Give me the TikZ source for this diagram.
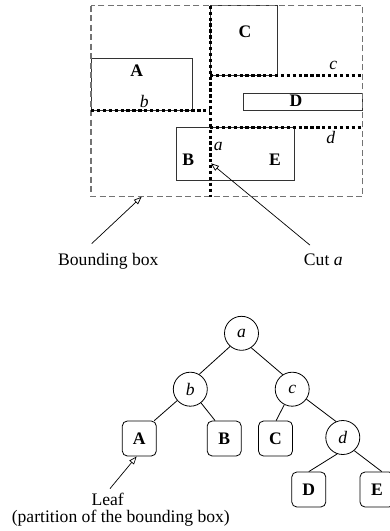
\documentclass[tikz,border=0pt]{standalone}
\usepackage{fontspec}
\setmainfont{Liberation Serif}
\usetikzlibrary{arrows.meta}

\tikzset{
  region/.style={draw=black!80, line width=0.8pt},
  bbox/.style={draw=black!55, line width=1.2pt, dash pattern=on 6pt off 3.5pt},
  cutline/.style={draw=black, line width=3pt, dash pattern=on 3.3pt off 2.6pt},
  lbl/.style={inner sep=0pt, font=\fontsize{17.6}{18}\selectfont},
  openarrow/.style={draw=black, line width=0.7pt, -{Triangle[open, length=8pt, width=6pt]}},
  cutnode/.style={circle, draw=black, line width=0.8pt, minimum size=34pt, inner sep=0pt,
                  font=\fontsize{17.6}{18}\selectfont\itshape},
  leafnode/.style={rectangle, rounded corners=5pt, draw=black, line width=0.8pt,
                   minimum width=34pt, minimum height=35pt, inner sep=0pt,
                   font=\fontsize{17.6}{18}\selectfont\bfseries},
  treeedge/.style={draw=black, line width=0.8pt}
}

\begin{document}
\begin{tikzpicture}[x=1pt, y=-1pt]
\useasboundingbox (0,0) rectangle (390,531);
\clip (0,0) rectangle (390,531);

% ---------- partitioned region ----------
\draw[region] (91,58.3) rectangle (192.7,110);      % A
\draw[region] (210,5.7) rectangle (277.3,75);       % C
\draw[region] (243.3,93.3) rectangle (362.7,110);   % D
\draw[region] (176,127.7) rectangle (294,180);      % B and E

\draw[bbox] (91,5.7) rectangle (362.7,196.7);

% cuts
\draw[cutline] (210,5.7) -- (210,196.7);            % a
\draw[cutline] (91,110.7) -- (210,110.7);           % b
\draw[cutline] (210,75.7) -- (362.7,75.7);          % c
\draw[cutline] (210,127.7) -- (362.7,127.7);        % d

% region and cut labels
\node[lbl, font=\fontsize{17.6}{18}\selectfont\bfseries] (rA) at (136.7,71) {A};
\node[lbl, font=\fontsize{17.6}{18}\selectfont\bfseries] (rC) at (245,31.7) {C};
\node[lbl, font=\fontsize{17.6}{18}\selectfont\bfseries] (rD) at (296,101) {D};
\node[lbl, font=\fontsize{17.6}{18}\selectfont\bfseries] (rB) at (188.3,159.3) {B};
\node[lbl, font=\fontsize{17.6}{18}\selectfont\bfseries] (rE) at (275,160) {E};
\node[lbl, font=\fontsize{17.6}{18}\selectfont\itshape] (ca) at (218.3,146.7) {a};
\node[lbl, font=\fontsize{17.6}{18}\selectfont\itshape] (cb) at (144.3,101) {b};
\node[lbl, font=\fontsize{17.6}{18}\selectfont\itshape] (cc) at (333.3,65.7) {c};
\node[lbl, font=\fontsize{17.6}{18}\selectfont\itshape] (cd) at (330.7,137.7) {d};

% callouts
\coordinate (bbtip) at (141.7,196.7);
\coordinate (cuttip) at (211,163.3);
\node[lbl, anchor=base] (bbtext) at (108.3,265) {Bounding box};
\node[lbl, anchor=base] (cuttext) at (323.3,265) {Cut \textit{a}};
\draw[openarrow] ([xshift=-16.6pt, yshift=9pt]bbtext.north) -- (bbtip);
\draw[openarrow] ([xshift=-13.3pt, yshift=8pt]cuttext.north) -- (cuttip);

% ---------- cut tree ----------
\node[cutnode] (ta) at (241.5,333.3) {a};
\node[cutnode] (tb) at (190.3,389.2) {b};
\node[cutnode] (tc) at (292.2,389.2) {c};
\node[cutnode] (td) at (342.8,437.5) {d};
\node[leafnode] (lA) at (139.3,438.5) {A};
\node[leafnode] (lB) at (224.2,438.5) {B};
\node[leafnode] (lC) at (275.5,438.5) {C};
\node[leafnode] (lD) at (308.8,489.5) {D};
\node[leafnode] (lE) at (377,489.5) {E};

\draw[treeedge] (ta.229) -- (tb.59);
\draw[treeedge] (ta.304) -- (tc.123);
\draw[treeedge] (tb.221) -- (lA.50);
\draw[treeedge] (tb.308) -- (lB.117);
\draw[treeedge] (tc.243) -- (lC.88);
\draw[treeedge] (tc.325) -- (td.113);
\draw[treeedge] (td.251) -- (lD.90);
\draw[treeedge] (td.311) -- (lE.75);

% leaf callout
\node[lbl, anchor=base] (leaftext) at (107.7,505.2) {Leaf};
\node[lbl, anchor=base] (leafnote) at (120.8,522) {(partition of the bounding box)};
\draw[openarrow] ([xshift=2.3pt, yshift=4pt]leaftext.north) -- ([xshift=-2.6pt]lA.south);
\end{tikzpicture}
\end{document}
